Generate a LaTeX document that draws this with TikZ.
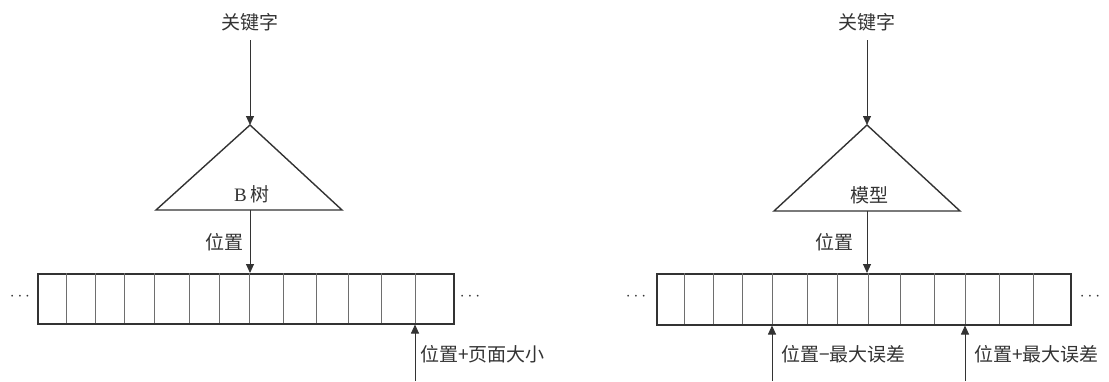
\documentclass[tikz,border=0pt]{standalone}
\usepackage{fontspec}
\setmainfont{Liberation Serif}
\newfontfamily\cjk{Noto Sans CJK SC}
\usetikzlibrary{arrows.meta}
\definecolor{ink}{HTML}{333333}
\definecolor{divc}{HTML}{6E6E6E}
\begin{document}
\begin{tikzpicture}[x=1pt,y=-1pt,
  lbl/.style={font=\cjk\fontsize{19}{21}\selectfont, text=ink, inner sep=0pt},
  dotsbox/.style={font=\fontsize{17}{19}\selectfont, text=ink, inner sep=0pt},
  arr/.style={draw=ink, line width=0.9pt, -{Triangle[length=9pt,width=8pt]}},
  tri/.style={draw=ink, line width=1.4pt, line join=miter},
  arraybox/.style={draw=ink, line width=1.5pt, inner sep=0pt, anchor=north west},
  divider/.style={draw=divc, line width=1pt}]
\useasboundingbox (0,0) rectangle (1109,381);

% ---------- left panel: B tree ----------
\node[lbl] (k1) at (250,22) {关键字};
\coordinate (a1) at (250,125);
\coordinate (bl1) at (156,210);
\coordinate (br1) at (342,210);
\coordinate (b1) at (250,210);
\draw[tri] (a1) -- (br1) -- (bl1) -- cycle;
\node[lbl] (t1) at (252,194) {{\rmfamily B} 树};
\node[arraybox, minimum width=416pt, minimum height=50pt] (arr1) at (37,273) {};
\foreach \x in {66,95,124,154,189,219,249,283,316,348,381,415}
  \draw[divider] (\x,273) -- (\x,323);
\draw[arr] (k1.south) ++(0,9) -- (a1);
\draw[arr] (b1) -- (b1 |- arr1.north);
\node[lbl] (pos1) at (224,242) {位置};
\node[dotsbox] (dl1) at (20,297) {$\cdots$};
\node[dotsbox] (dr1) at (470,297) {$\cdots$};
\coordinate (p1) at (415,381);
\draw[arr] (p1) -- (p1 |- arr1.south);
\node[lbl, anchor=west] (lp1) at (420,354) {位置+页面大小};

% ---------- right panel: model ----------
\node[lbl] (k2) at (867,22) {关键字};
\coordinate (a2) at (867,125);
\coordinate (bl2) at (774,211);
\coordinate (br2) at (960,211);
\coordinate (b2) at (867,211);
\draw[tri] (a2) -- (br2) -- (bl2) -- cycle;
\node[lbl] (t2) at (869,195) {模型};
\node[arraybox, minimum width=414pt, minimum height=51pt] (arr2) at (656,273) {};
\foreach \x in {684,713,742,772,807,837,868,900,934,965,999,1033}
  \draw[divider] (\x,273) -- (\x,324);
\draw[arr] (k2.south) ++(0,9) -- (a2);
\draw[arr] (b2) -- (b2 |- arr2.north);
\node[lbl] (pos2) at (834,242) {位置};
\node[dotsbox] (dl2) at (636,297) {$\cdots$};
\node[dotsbox] (dr2) at (1090,297) {$\cdots$};
\coordinate (p2) at (772,381);
\coordinate (p3) at (965,381);
\draw[arr] (p2) -- (p2 |- arr2.south);
\draw[arr] (p3) -- (p3 |- arr2.south);
\node[lbl, anchor=west] (lp2) at (781,354) {位置−最大误差};
\node[lbl, anchor=west] (lp3) at (974,354) {位置+最大误差};
\end{tikzpicture}
\end{document}
